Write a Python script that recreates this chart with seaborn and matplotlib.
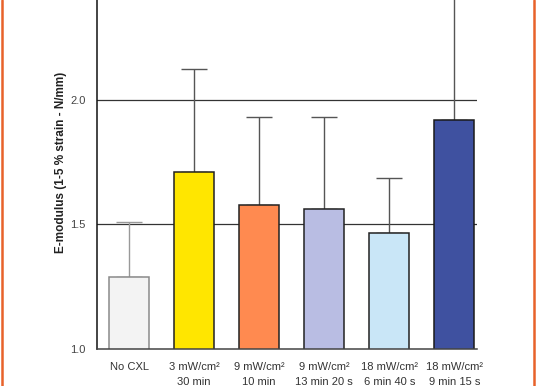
import matplotlib
matplotlib.use("Agg")
import matplotlib.pyplot as plt
from matplotlib.lines import Line2D
import seaborn as sns
import pandas as pd

groups = ["No CXL", "3 mW/cm²\n30 min", "9 mW/cm²\n10 min", "9 mW/cm²\n13 min 20 s",
          "18 mW/cm²\n6 min 40 s", "18 mW/cm²\n9 min 15 s"]
means = [1.287, 1.711, 1.576, 1.561, 1.466, 1.922]
upper = [1.509, 2.124, 1.933, 1.933, 1.685, 2.55]
colors = ["#f3f3f3", "#ffe600", "#ff8a50", "#b9bde3", "#c9e6f7", "#3f51a0"]
edges = ["#8a8a8a", "#222222", "#222222", "#222222", "#222222", "#1a1a1a"]
yticks = [1.0, 1.5, 2.0]

sns.set_style("white")
plt.rcParams["font.family"] = ["Liberation Sans", "DejaVu Sans"]

df = pd.DataFrame({"group": groups, "mean": means})

fig = plt.figure(figsize=(5.36, 3.86), dpi=100)
ax = fig.add_axes([0.1804, 0.0971, 0.7095, 0.965])

# horizontal reference lines behind the bars
for t in yticks[1:]:
    ax.axhline(t, color="#333333", lw=0.9, zorder=0)

# upper-only error bars, drawn under the bars
err = [u - m for u, m in zip(upper, means)]
for i, (m, e) in enumerate(zip(means, err)):
    c = "#999999" if i == 0 else "#555555"
    ax.errorbar(i, m, yerr=[[0], [e]], fmt="none", ecolor=c, elinewidth=1.0,
                capsize=9.5, capthick=1.0, zorder=1)

sns.barplot(data=df, x="group", y="mean", hue="group", palette=colors, legend=False,
            width=0.62, saturation=1, ax=ax, zorder=2)
for patch, ec in zip(ax.patches, edges):
    patch.set_edgecolor(ec)
    patch.set_linewidth(1.1)

ax.set_ylim(1.0, 2.5)
ax.set_xlim(-0.5, 5.35)
ax.set_yticks(yticks)
ax.set_yticklabels([f"{t:.1f}" for t in yticks], fontsize=8, color="#444444")
ax.tick_params(axis="y", length=5, width=0.9, color="#333333", pad=3)
ax.tick_params(axis="x", length=0, labelsize=8, pad=10, colors="#333333")
for lbl in ax.get_xticklabels():
    lbl.set_linespacing(1.55)
ax.set_xlabel("")
ax.set_ylabel("E-modulus (1-5 % strain - N/mm)", fontsize=8.5, fontweight="bold",
              color="#222222", labelpad=2)

sns.despine(ax=ax, top=True, right=True)
ax.spines["left"].set_color("#111111")
ax.spines["left"].set_linewidth(1.1)
ax.spines["bottom"].set_color("#444444")
ax.spines["bottom"].set_linewidth(1.1)

# orange frame lines on both sides of the figure
for x in (0.003, 0.997):
    fig.add_artist(Line2D([x, x], [0, 1], transform=fig.transFigure,
                          color="#e8622a", lw=1.8))

fig.savefig("out.png", dpi=100)
